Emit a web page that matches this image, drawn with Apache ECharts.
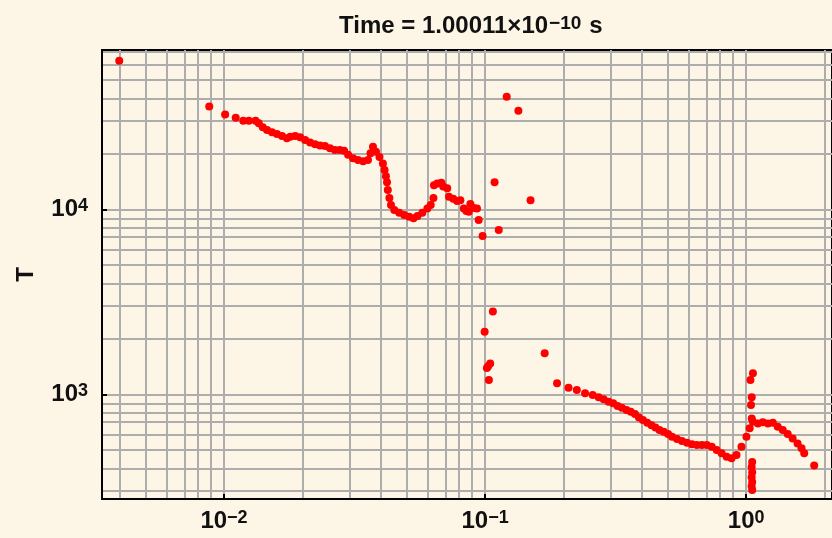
<!DOCTYPE html>
<html>
<head>
<meta charset="utf-8">
<script src="https://cdn.jsdelivr.net/npm/echarts@6/dist/echarts.min.js"></script>
<style>
  html, body { margin: 0; padding: 0; background: #fdf5e6; }
  #chart { width: 832px; height: 538px; }
</style>
</head>
<body>
<div id="chart"></div>
<script>
// radius values (x) and temperature values (y)
const rValues = [
  0.00397, 0.00878, 0.0101, 0.01109, 0.01185, 0.01245, 0.01321, 0.01359, 0.01408, 0.01462,
  0.01527, 0.01595, 0.01667, 0.01741, 0.01794, 0.01874, 0.01957, 0.02045, 0.02136, 0.02232,
  0.02332, 0.02436, 0.02545, 0.02659, 0.02777, 0.02884, 0.02987, 0.0312, 0.0326, 0.0341,
  0.0356, 0.0364, 0.0372, 0.0382, 0.0394, 0.0406, 0.0412, 0.0417, 0.0421, 0.0424,
  0.0430, 0.0436, 0.0449, 0.0469, 0.0490, 0.0512, 0.0532, 0.0551, 0.0575, 0.0601,
  0.0619, 0.0634, 0.0637, 0.0656, 0.0680, 0.0691, 0.0716, 0.0727, 0.0755, 0.0781,
  0.0804, 0.0829, 0.0848, 0.0878, 0.0905, 0.0931, 0.0866, 0.0945, 0.0978, 0.1087,
  0.1128, 0.1210, 0.1341, 0.1493, 0.1071, 0.0996, 0.1046, 0.1027, 0.1016, 0.1034,
  0.1691, 0.1886, 0.2087, 0.2245, 0.2415, 0.2583, 0.2722, 0.2844, 0.2971, 0.3094,
  0.3216, 0.3339, 0.3479, 0.3612, 0.3750, 0.3883, 0.4021, 0.4178, 0.4338, 0.4492,
  0.4653, 0.4831, 0.5020, 0.5199, 0.5431, 0.5674, 0.5929, 0.6194, 0.6471, 0.6761,
  0.7063, 0.7380, 0.7710, 0.8053, 0.8413, 0.8788, 0.9181, 0.9590, 1.002, 1.031,
  1.061, 1.109, 1.158, 1.211, 1.265, 1.321, 1.380, 1.442, 1.506, 1.573,
  1.629, 1.668, 1.821, 1.061, 1.038, 1.050, 1.043, 1.050, 1.054, 1.049,
  1.054, 1.049, 1.054, 1.049, 1.054
];
const tValues = [
  63600, 35900, 32500, 31200, 30100, 30100, 30100, 29200, 27800, 26800,
  26100, 25500, 24900, 24200, 24700, 24900, 24500, 23700, 23000, 22500,
  22100, 22000, 21400, 20900, 20900, 20700, 19700, 18900, 18500, 18200,
  18500, 20100, 21800, 20500, 19200, 17700, 16300, 15100, 14000, 12700,
  11500, 10550, 9910, 9580, 9320, 9120, 8940, 9200, 9580, 10100,
  10550, 11500, 13500, 13800, 13900, 13300, 13000, 11700, 11400, 11100,
  11200, 10100, 9790, 10680, 10160, 10100, 9710, 8750, 7170, 14000,
  7730, 40600, 34100, 11200, 2800, 2180, 1470, 1420, 1390, 1195,
  1666, 1147, 1086, 1055, 1013, 992, 964, 940, 912, 894,
  865, 847, 823, 805, 783, 751, 726, 702, 680, 663,
  641, 628, 610, 590, 573, 559, 547, 537, 532, 532,
  532, 521, 500, 480, 460, 451, 470, 521, 590, 655,
  711, 697, 706, 697, 702, 668, 641, 610, 578, 543,
  511, 480, 413, 1299, 1195, 964, 876, 740, 431, 405,
  380, 357, 336, 319, 304
];
// axis ranges and label positions
const xMin = 0.00341, xMax = 2.131;
const yMin = 272, yMax = 72600;
const xDecades = [-2, -1, 0];
const yDecades = [3, 4];
// log grid lines
const xGrid = [0.004, 0.005, 0.006, 0.007, 0.008, 0.009, 0.01, 0.02, 0.03, 0.04, 0.05, 0.06, 0.07,
  0.08, 0.09, 0.1, 0.2, 0.3, 0.4, 0.5, 0.6, 0.7, 0.8, 0.9, 1, 2];
const yGrid = [300, 400, 500, 600, 700, 800, 900, 1000, 2000, 3000, 4000, 5000, 6000, 7000, 8000,
  9000, 10000, 20000, 30000, 40000, 50000, 60000, 70000];

const lg = Math.log10;
const font = 'Liberation Sans, Arial, sans-serif';
const textColor = '#111';
const rich = {
  b: { fontSize: 24, lineHeight: 24, fontFamily: font, fontWeight: 'bold', color: textColor },
  s: { fontSize: 18, lineHeight: 14, verticalAlign: 'top', fontFamily: font, fontWeight: 'bold', color: textColor },
};
const titleRich = {
  b: { fontSize: 24, lineHeight: 24, fontFamily: font, fontWeight: 'bold', color: textColor },
  s: { fontSize: 19, lineHeight: 14, verticalAlign: 'top', fontFamily: font, fontWeight: 'bold', color: textColor, padding: [0, 8, 0, 1] },
};
const powLabel = (v) => {
  const e = Math.round(v);
  return '{b|10}{s|' + (e < 0 ? '\u2212' + -e : e) + '}';
};

const chart = echarts.init(document.getElementById('chart'));
const option = {
  animation: false,
  backgroundColor: '#fdf5e6',
  title: {
    text: '{b|Time = 1.00011\u00d710}{s|\u221210}{b|s}',
    left: 334,
    top: 9,
    textStyle: { rich: titleRich },
  },
  grid: {
    left: 102,
    top: 50,
    right: -6,
    bottom: 39,
    show: true,
    borderColor: '#000',
    borderWidth: 2,
    backgroundColor: 'transparent',
  },
  xAxis: {
    type: 'value',
    min: lg(xMin),
    max: lg(xMax),
    z: 2,
    axisLine: { show: true, onZero: false, lineStyle: { color: '#000', width: 2 } },
    axisTick: { show: true, inside: true, length: 5, customValues: xDecades, lineStyle: { color: '#000', width: 2 } },
    axisLabel: { customValues: xDecades, formatter: powLabel, margin: 10, rich: rich },
    splitLine: { show: false },
  },
  yAxis: {
    type: 'value',
    min: lg(yMin),
    max: lg(yMax),
    z: 2,
    name: 'T',
    nameLocation: 'middle',
    nameGap: 64,
    nameRotate: 90,
    nameTextStyle: { fontSize: 24, fontFamily: font, fontWeight: 'bold', color: textColor },
    axisLine: { show: true, onZero: false, lineStyle: { color: '#000', width: 2 } },
    axisTick: { show: true, inside: true, length: 5, customValues: yDecades, lineStyle: { color: '#000', width: 2 } },
    axisLabel: { customValues: yDecades, formatter: powLabel, margin: 14, rich: rich },
    splitLine: { show: false },
  },
  series: [
    {
      type: 'line',
      data: [],
      silent: true,
      markLine: {
        z: 1,
        silent: true,
        symbol: ['none', 'none'],
        label: { show: false },
        emphasis: { disabled: true },
        lineStyle: { color: '#adadad', width: 2, type: 'solid' },
        data: xGrid.map((v) => ({ xAxis: lg(v) })).concat(yGrid.map((v) => ({ yAxis: lg(v) }))),
      },
    },
    {
      type: 'scatter',
      z: 3,
      symbolSize: 8,
      itemStyle: { color: '#ff0000', opacity: 1 },
      data: rValues.map((r, i) => [lg(r), lg(tValues[i])]),
    },
  ],
};
chart.setOption(option);
</script>
</body>
</html>
